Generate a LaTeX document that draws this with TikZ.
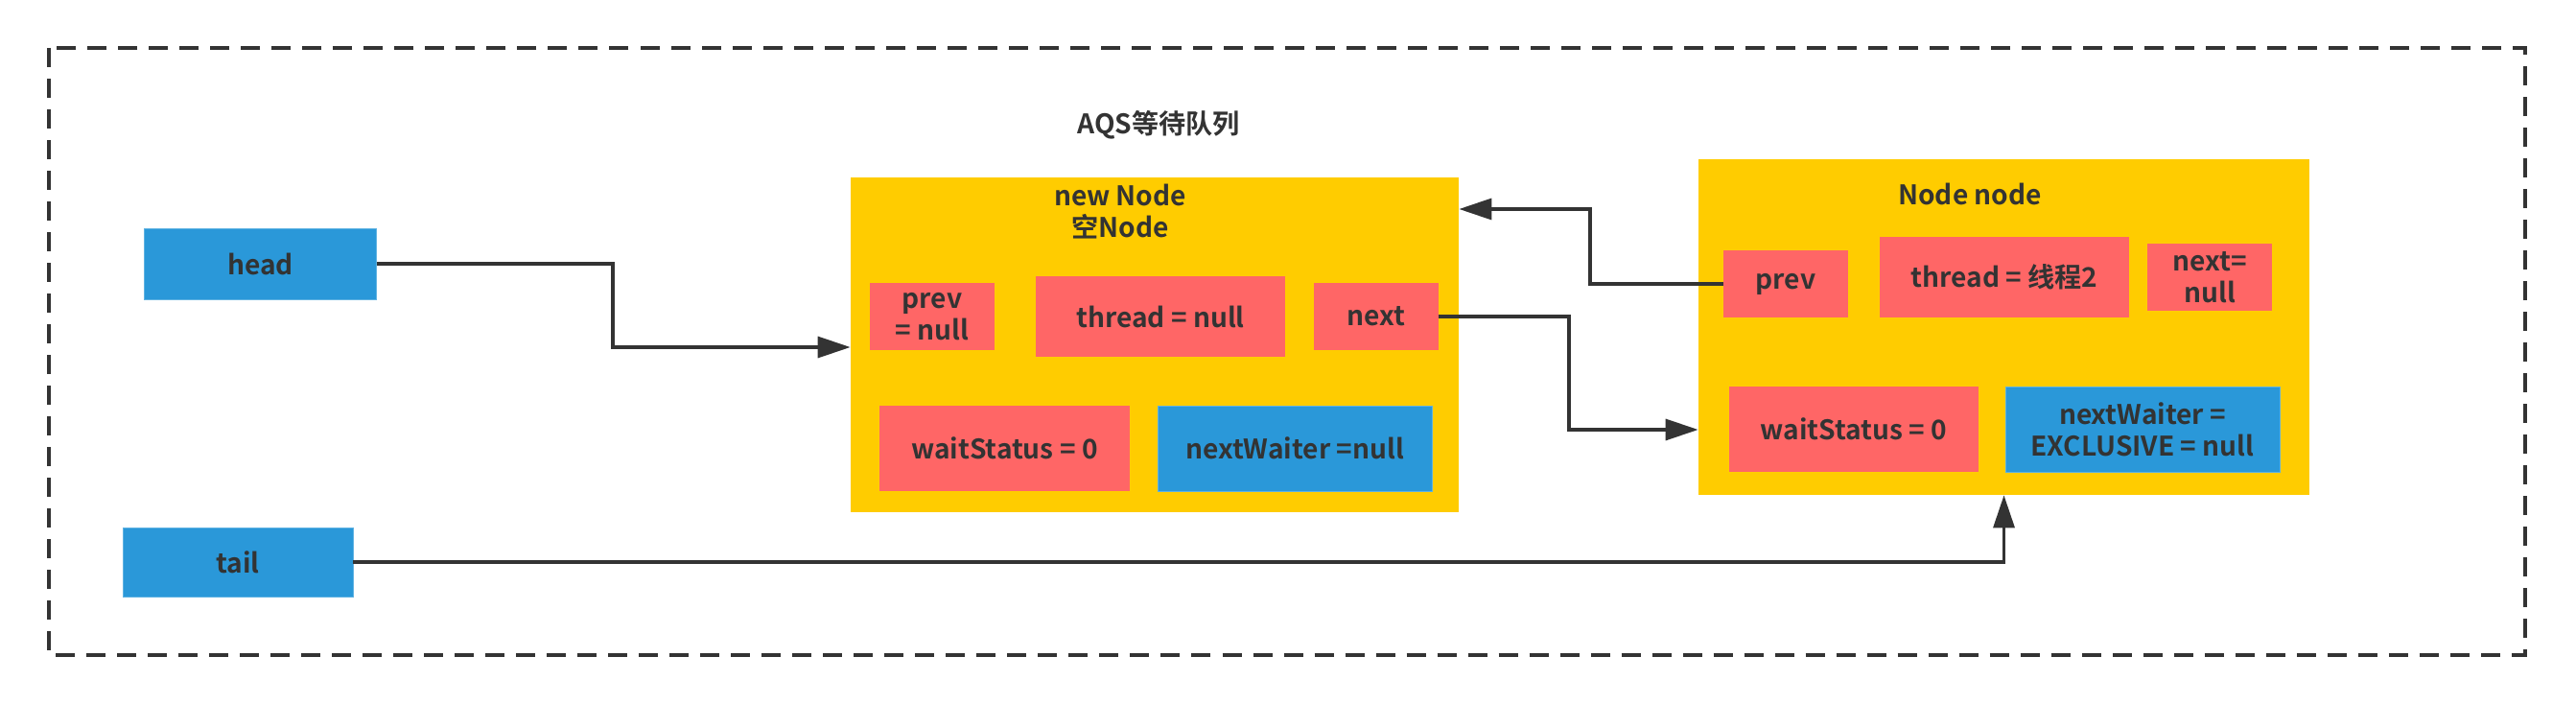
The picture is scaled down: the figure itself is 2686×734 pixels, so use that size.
\documentclass[tikz,border=0pt]{standalone}
\usepackage{fontspec}
\setmainfont{Noto Sans CJK SC}[BoldFont={Noto Sans CJK SC Bold}]
\usepackage{tikz}
\usetikzlibrary{arrows.meta}
\definecolor{qyellow}{HTML}{FFCC00}
\definecolor{qred}{HTML}{FF6666}
\definecolor{qblue}{HTML}{2A98D9}
\definecolor{qdark}{HTML}{333333}
\tikzstyle{txt} = [text=qdark, font=\fontsize{20}{23.5}\selectfont\bfseries, align=center, inner sep=0pt]
\tikzstyle{holder} = [fill=qyellow, inner sep=0pt]
\tikzstyle{field} = [txt, fill=qred]
\tikzstyle{pointer} = [txt, fill=qblue, draw=qblue!75!white, line width=0.6pt]
\tikzstyle{line} = [draw=qdark, line width=2.3pt, -{Triangle[length=0.85cm,width=0.55cm]}]
\tikzstyle{frame} = [draw=qdark, line width=2.8pt, dash pattern=on 0.5cm off 0.3cm]

\begin{document}
\begin{tikzpicture}[x=0.025cm,y=-0.025cm]
		\useasboundingbox (0,0) rectangle (2686,734);
		\draw[frame] (51,50) rectangle (2633,683);
		\node[txt] (title) at (1208,130) {AQS等待队列};
		\node[pointer, minimum width=6.03cm, minimum height=1.85cm] (head) at (271.5,275) {head};
		\node[pointer, minimum width=6cm, minimum height=1.8cm] (tail) at (248,586) {tail};
		% new Node
		\node[holder, minimum width=15.85cm, minimum height=8.725cm] (nodeA) at (1204,359.5) {};
		\node[txt] (titleA) at (1168,221) {new Node\\空Node};
		\node[field, minimum width=3.25cm, minimum height=1.75cm] (prevA) at (972,330) {prev\\= null};
		\node[field, minimum width=6.5cm, minimum height=2.1cm] (threadA) at (1210,330) {thread = null};
		\node[field, minimum width=3.25cm, minimum height=1.75cm] (nextA) at (1435,330) {next};
		\node[field, minimum width=6.525cm, minimum height=2.225cm] (waitA) at (1047.5,467.5) {waitStatus = 0};
		\node[pointer, minimum width=7.15cm, minimum height=2.225cm] (waiterA) at (1350,467.5) {nextWaiter =null};
		% Node node
		\node[holder, minimum width=15.925cm, minimum height=8.75cm] (nodeB) at (2089.5,341) {};
		\node[txt] (titleB) at (2054,202) {Node node};
		\node[field, minimum width=3.25cm, minimum height=1.75cm] (prevB) at (1862,296) {prev};
		\node[field, minimum width=6.5cm, minimum height=2.1cm] (threadB) at (2090,289) {thread = 线程2};
		\node[field, minimum width=3.25cm, minimum height=1.75cm] (nextB) at (2304,289) {next=\\null};
		\node[field, minimum width=6.5cm, minimum height=2.225cm] (waitB) at (1933,447.5) {waitStatus = 0};
		\node[pointer, minimum width=7.15cm, minimum height=2.225cm] (waiterB) at (2234,447.5) {nextWaiter =\\EXCLUSIVE = null};
		% links
		\draw[line] (head.east) -| (639,362) -- (nodeA.west |- 0,362);
		\draw[line] (nextA.east) -| (1636,448) -- (nodeB.west |- 0,448);
		\draw[line] (prevB.west) -| (1658,218) -- (nodeA.east |- 0,218);
		\draw[line] (tail.east) -| (nodeB.south);
	\end{tikzpicture}
\end{document}
